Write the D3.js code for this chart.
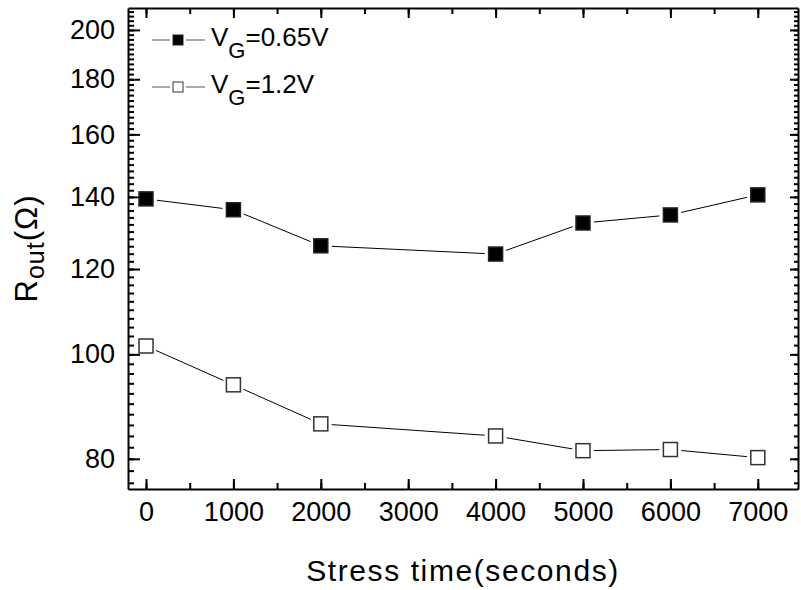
<!DOCTYPE html>
<html>
<head>
  <meta charset="utf-8">
  <title>Rout vs stress time</title>
  <script src="https://d3js.org/d3.v7.min.js"></script>
  <style media="screen">
    body { margin: 0; background: white; }
    text { font-family: "Liberation Sans", Arial, sans-serif; fill: black; }
    .axis > .domain { stroke: black; stroke-width: 2; }
    .axis .tick line { stroke: black; stroke-width: 2; }
  </style>
</head>
<body>
<div id="output"></div>

<script type="text/javascript">

  var stressTime = [0, 1000, 2000, 4000, 5000, 6000, 7000];
  var rout065 = [139.4, 136.2, 126.1, 123.9, 132.4, 134.7, 140.6];
  var rout12 = [101.8, 93.7, 86.2, 84.0, 81.4, 81.6, 80.2];
  var seriesNames = ["0.65V", "1.2V"];
  var xTicks = [0, 1000, 2000, 3000, 4000, 5000, 6000, 7000];
  var xMinor = d3.range(0, 7500, 500);
  var yTicks = [80, 100, 120, 140, 160, 180, 200];
  var yMinor = d3.range(76, 210, 2);

  var w = 801;
  var h = 590;
  var margin = {top: 8, right: 3, bottom: 101, left: 128};
  var wChart = w - margin.left - margin.right;
  var hChart = h - margin.top - margin.bottom;

  var x = d3.scaleLinear()
          .domain([-206, 7460])
          .range([0, wChart]);

  var y = d3.scaleLog()
          .domain([75, 209.6])
          .range([hChart, 0]);

  var svg = d3.select("#output").append("svg")
          .attr("width", w)
          .attr("height", h);

  var chart = svg.append("g")
          .attr("transform", "translate(" + margin.left + "," + margin.top + ")");

  // minor ticks (no labels)
  function minor(axis, vals, tr, size) {
    chart.append("g")
            .attr("class", "axis")
            .attr("transform", tr)
            .call(axis.tickValues(vals).tickSize(-size).tickFormat(""))
            .select(".domain").remove();
  }
  minor(d3.axisBottom(x), xMinor, "translate(0," + hChart + ")", 6);
  minor(d3.axisTop(x), xMinor, "translate(0,0)", 6);
  minor(d3.axisLeft(y), yMinor, "translate(0,0)", 6);
  minor(d3.axisRight(y), yMinor, "translate(" + wChart + ",0)", 4);

  // major axes
  var xAxis = chart.append("g")
          .attr("class", "axis")
          .attr("transform", "translate(0," + hChart + ")")
          .call(d3.axisBottom(x).tickValues(xTicks).tickSize(-10).tickSizeOuter(0).tickPadding(13).tickFormat(d3.format("d")));
  xAxis.selectAll("text").attr("font-size", 27);

  chart.append("g")
          .attr("class", "axis")
          .call(d3.axisTop(x).tickValues(xTicks).tickSize(-10).tickSizeOuter(0).tickFormat(""));

  var yAxis = chart.append("g")
          .attr("class", "axis")
          .call(d3.axisLeft(y).tickValues(yTicks).tickSize(-12).tickSizeOuter(0).tickPadding(13).tickFormat(d3.format("d")));
  yAxis.selectAll("text").attr("font-size", 27);

  chart.append("g")
          .attr("class", "axis")
          .attr("transform", "translate(" + wChart + ",0)")
          .call(d3.axisRight(y).tickValues(yTicks).tickSize(-8).tickSizeOuter(0).tickFormat(""));

  // connecting lines with small gaps at the markers
  var gap = 11;
  function drawSeries(vals, filled) {
    var pts = stressTime.map(function(t, i) { return [x(t), y(vals[i])]; });
    for (var i = 0; i < pts.length - 1; i++) {
      var a = pts[i], b = pts[i + 1];
      var dx = b[0] - a[0], dy = b[1] - a[1], len = Math.sqrt(dx * dx + dy * dy);
      var ux = dx / len, uy = dy / len;
      chart.append("line")
              .attr("x1", a[0] + ux * gap).attr("y1", a[1] + uy * gap)
              .attr("x2", b[0] - ux * gap).attr("y2", b[1] - uy * gap)
              .attr("stroke", "black").attr("stroke-width", 1);
    }
    chart.selectAll(null)
            .data(pts)
            .enter()
            .append("rect")
            .attr("x", function(d) { return d[0] - 7; })
            .attr("y", function(d) { return d[1] - 7; })
            .attr("width", 14)
            .attr("height", 14)
            .attr("fill", filled ? "black" : "white")
            .attr("stroke", filled ? "#222" : "#333")
            .attr("stroke-width", 1.5);
  }
  drawSeries(rout065, true);
  drawSeries(rout12, false);

  // legend
  var legend = svg.append("g");
  seriesNames.forEach(function(name, i) {
    var ly = 40 + i * 47;
    var filled = i === 0;
    legend.append("line").attr("x1", 152).attr("x2", 170).attr("y1", ly).attr("y2", ly)
            .attr("stroke", "#555").attr("stroke-width", 1);
    legend.append("line").attr("x1", 186).attr("x2", 205).attr("y1", ly).attr("y2", ly)
            .attr("stroke", "#555").attr("stroke-width", 1);
    legend.append("rect").attr("x", 173).attr("y", ly - 5).attr("width", 10).attr("height", 10)
            .attr("fill", filled ? "black" : "white").attr("stroke", filled ? "#222" : "#333").attr("stroke-width", 1);
    var t = legend.append("text").attr("x", 211).attr("y", ly + 6).attr("font-size", 26);
    t.append("tspan").text("V");
    t.append("tspan").attr("dy", 12).attr("font-size", 22).text("G");
    t.append("tspan").attr("dy", -12).text("=" + name);
  });

  // axis titles
  svg.append("text")
          .attr("x", margin.left + wChart / 2)
          .attr("y", 581)
          .attr("text-anchor", "middle")
          .attr("font-size", 30)
          .attr("letter-spacing", 1.6)
          .text("Stress time(seconds)");

  var yt = svg.append("text")
          .attr("transform", "translate(37," + (margin.top + hChart / 2) + ") rotate(-90)")
          .attr("text-anchor", "middle")
          .attr("font-size", 31)
          .attr("letter-spacing", 1);
  yt.append("tspan").text("R");
  yt.append("tspan").attr("dy", 7).attr("font-size", 25).text("out");
  yt.append("tspan").attr("dy", -7).text("(Ω)");

</script>
</body>
</html>
